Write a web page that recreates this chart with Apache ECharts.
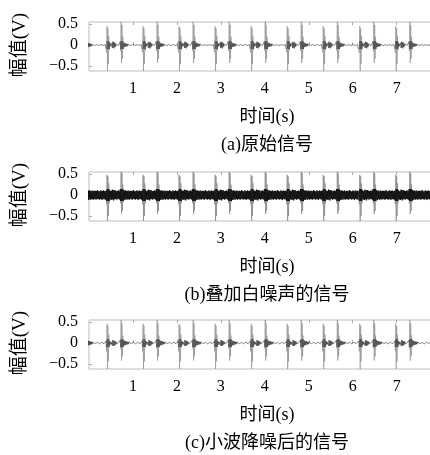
<!DOCTYPE html>
<html><head><meta charset="utf-8">
<script src="https://cdn.jsdelivr.net/npm/echarts@6/dist/echarts.min.js"></script>
<style>html,body{margin:0;padding:0;background:#fff}#c{width:430px;height:455px}</style>
</head><body><div id="c"></div>
<script>
// ---- data ----
const xTicks = [1, 2, 3, 4, 5, 6, 7];
const yTicks = [-0.5, 0, 0.5];
// centre times (s) of the first (S1) burst of each cycle
const beatTimes = [-0.39, 0.43, 1.25, 2.07, 2.89, 3.71, 4.53, 5.35, 6.18, 7.00, 7.82];
const sampleStep = 0.01;   // s between samples of one cycle
const cycleLead = 4;       // samples before the S1 centre
// one cycle of the original signal (V)
const cycleOriginal = [
  0.04, -0.18, 0.45, -0.62, 0.40, -0.45, 0.22, -0.12,
  0.06, -0.04, 0.03, -0.02, 0.015,
  0.05, -0.07, 0.08, -0.06, 0.07, -0.08, 0.06, -0.05, 0.04, -0.03, 0.02, -0.02, 0.01,
  -0.01, 0.012, -0.01, 0.01, -0.012, 0.01,
  0.08, -0.14, 0.58, -0.43, 0.48, -0.33, 0.2, -0.1,
  0.06, -0.05, 0.045, -0.04, 0.04, -0.035, 0.03, -0.03, 0.028, -0.025, 0.025, -0.02, 0.02, -0.018, 0.015, -0.015, 0.012, -0.012,
  0.012, -0.01, 0.01, -0.012, 0.01, -0.01, 0.012, -0.01, 0.01, -0.01, 0.012, -0.012, 0.01, -0.01, 0.01, -0.012, 0.012, -0.01, 0.01, -0.01, 0.012, -0.01, 0.01, -0.01
];
// one cycle of the signal with white noise (V)
const cycleNoisy = [
  0.1, -0.22, 0.48, -0.62, 0.45, -0.5, 0.28, -0.2,
  0.12, -0.1, 0.09, -0.11, 0.1,
  -0.12, 0.13, -0.1, 0.12, -0.13, 0.11, -0.1, 0.12, -0.09, 0.1, -0.11, 0.09, -0.1,
  0.1, -0.09, 0.11, -0.1, 0.09, -0.11,
  0.14, -0.2, 0.58, -0.45, 0.52, -0.38, 0.25, -0.16,
  0.12, -0.11, 0.1, -0.12, 0.11, -0.09, 0.1, -0.11, 0.09, -0.1, 0.11, -0.1, 0.09, -0.11, 0.1, -0.09, 0.1, -0.1,
  0.1, -0.11, 0.09, -0.1, 0.12, -0.09, 0.1, -0.1, 0.08, -0.11, 0.1, -0.09, 0.11, -0.1, 0.09, -0.12, 0.1, -0.09, 0.11, -0.1, 0.09, -0.1, 0.1, -0.11
];
// one cycle of the wavelet-denoised signal (V)
const cycleDenoised = [
  0.05, -0.2, 0.46, -0.62, 0.41, -0.44, 0.2, -0.1,
  0.05, -0.04, 0.03, -0.03, 0.02,
  0.05, -0.06, 0.07, -0.07, 0.06, -0.07, 0.05, -0.05, 0.04, -0.03, 0.03, -0.02, 0.01,
  -0.015, 0.02, -0.015, 0.015, -0.02, 0.015,
  0.07, -0.13, 0.57, -0.42, 0.47, -0.32, 0.18, -0.1,
  0.07, -0.06, 0.05, -0.05, 0.045, -0.04, 0.04, -0.035, 0.03, -0.03, 0.03, -0.025, 0.025, -0.02, 0.02, -0.02, 0.018, -0.015,
  0.02, -0.015, 0.018, -0.02, 0.015, -0.018, 0.02, -0.015, 0.015, -0.02, 0.018, -0.015, 0.015, -0.018, 0.02, -0.015, 0.015, -0.02, 0.018, -0.015, 0.015, -0.018, 0.015, -0.015
];
const captions = ['(a)原始信号', '(b)叠加白噪声的信号', '(c)小波降噪后的信号'];
const yName = '幅值(V)';
const xName = '时间(s)';

// ---- layout ----
const gridTops = [22, 172, 320];
const gridH = 49, gridL = 89, gridW = 356;
const serif = '"Liberation Serif", "Noto Sans CJK SC", serif';
const lineWidths = [0.6, 0.75, 0.6];
const innerColors = ['#333', '#000', '#333'];
const innerBands = [0.1, 0.135, 0.1];
const outerColor = '#8a8a8a';

function buildTrace(cycle) {
  const pts = [];
  beatTimes.forEach(b => {
    cycle.forEach((v, i) => pts.push([+(b + (i - cycleLead) * sampleStep).toFixed(3), v]));
  });
  return pts;
}
const traces = [cycleOriginal, cycleNoisy, cycleDenoised].map(buildTrace);

const grids = [], xAxes = [], yAxes = [], series = [], graphics = [], visualMaps = [];
gridTops.forEach((top, k) => {
  grids.push({ left: gridL, top: top, width: gridW, height: gridH, show: true,
    outerBoundsMode: 'none', containLabel: false,
    borderColor: '#bdbdbd', borderWidth: 1, backgroundColor: 'transparent' });
  const tickStyle = { show: true, inside: true, length: 3, customValues: xTicks, lineStyle: { color: '#aaa' } };
  xAxes.push({ gridIndex: k, type: 'value', min: 0, max: 8.1, position: 'bottom',
    axisLine: { show: false }, splitLine: { show: false }, axisTick: tickStyle,
    axisLabel: { customValues: xTicks, color: '#000', fontSize: 16, fontFamily: serif, margin: 10 } });
  xAxes.push({ gridIndex: k, type: 'value', min: 0, max: 8.1, position: 'top',
    axisLine: { show: false }, splitLine: { show: false }, axisTick: tickStyle,
    axisLabel: { show: false } });
  yAxes.push({ gridIndex: k, type: 'value', min: -0.62, max: 0.55,
    axisLine: { show: false }, splitLine: { show: false },
    axisTick: { show: true, inside: true, length: 3, customValues: yTicks, lineStyle: { color: '#aaa' } },
    axisLabel: { customValues: yTicks, color: '#000', fontSize: 16, fontFamily: serif, margin: 11,
      formatter: v => String(v).replace('-', '−') } });
  series.push({ type: 'line', xAxisIndex: 2 * k, yAxisIndex: k, data: traces[k],
    showSymbol: false, symbol: 'none', clip: true, silent: true,
    lineStyle: { width: lineWidths[k] } });
  visualMaps.push({ type: 'piecewise', show: false, seriesIndex: k, dimension: 1,
    pieces: [
      { lt: -innerBands[k], color: outerColor },
      { gte: -innerBands[k], lte: innerBands[k], color: innerColors[k] },
      { gt: innerBands[k], color: outerColor }
    ] });
  const zeroY = top + gridH * 0.55 / 1.17;
  graphics.push({ type: 'text', x: 20, y: zeroY, rotation: Math.PI / 2,
    style: { text: yName, font: '19px ' + serif, fill: '#000', textAlign: 'center', textVerticalAlign: 'middle' } });
  graphics.push({ type: 'text', x: 267, y: top + gridH + 46,
    style: { text: xName, font: '18px ' + serif, fill: '#000', textAlign: 'center', textVerticalAlign: 'middle' } });
  graphics.push({ type: 'text', x: 267, y: top + gridH + 74,
    style: { text: captions[k], font: '18px ' + serif, fill: '#000', textAlign: 'center', textVerticalAlign: 'middle' } });
});

const chart = echarts.init(document.getElementById('c'), null, { renderer: 'canvas' });
chart.setOption({
  animation: false,
  backgroundColor: '#fff',
  grid: grids, xAxis: xAxes, yAxis: yAxes, series: series, graphic: graphics, visualMap: visualMaps
});
</script>
</body></html>
